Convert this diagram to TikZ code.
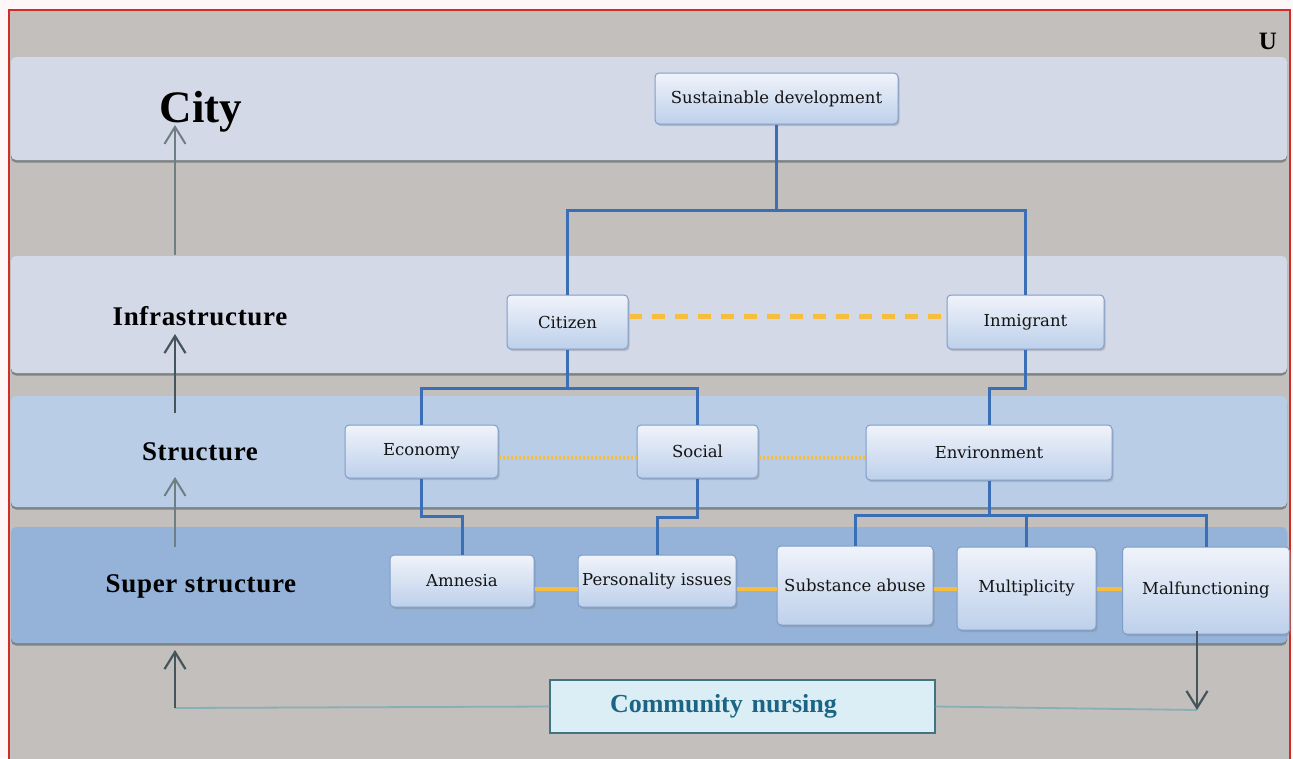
\documentclass[tikz,border=0pt]{standalone}
\usepackage{fontspec}
\setmainfont{Liberation Serif}
\newfontfamily\nodefont{DejaVu Serif}
\newfontfamily\labfont[LetterSpace=2.5]{Liberation Serif}
\usetikzlibrary{arrows.meta,shadows}
\definecolor{bggray}{HTML}{C3BFBD}
\definecolor{bandlight}{HTML}{D4D9E8}
\definecolor{bandmid}{HTML}{B9CEE6}
\definecolor{banddark}{HTML}{95B2D8}
\definecolor{bandshadow}{HTML}{7E8384}
\definecolor{framered}{HTML}{CF2E28}
\definecolor{boxtop}{HTML}{F0F3FA}
\definecolor{boxbot}{HTML}{BDD0EB}
\definecolor{boxline}{HTML}{7E9DC8}
\definecolor{connblue}{HTML}{3A6FB5}
\definecolor{connorange}{HTML}{F6BE3C}
\definecolor{arrowdark}{HTML}{44565B}
\definecolor{arrowlight}{HTML}{6E7E82}
\definecolor{commfill}{HTML}{DCEEF5}
\definecolor{commline}{HTML}{3F7480}
\definecolor{commtext}{HTML}{1B6584}
\definecolor{baseline}{HTML}{88AEB6}
\begin{document}
\begin{tikzpicture}[x=1pt,y=-1pt,
  box/.style={draw=boxline, line width=1pt, rounded corners=4pt,
    top color=boxtop, bottom color=boxbot,
    drop shadow={shadow xshift=1.5pt, shadow yshift=-2pt, opacity=0.35},
    font=\nodefont\fontsize{16.5}{19}\selectfont, text=black!92, inner sep=0pt},
  lab/.style={anchor=base, text=black, inner sep=0pt},
  conn/.style={draw=connblue, line width=3pt},
  odash/.style={draw=connorange, line width=5pt, dash pattern=on 13pt off 10pt},
  odot/.style={draw=connorange, line width=3.5pt, dash pattern=on 2.5pt off 1.5pt},
  osolid/.style={draw=connorange, line width=3.5pt},
  uparrow/.style={line width=2.6pt, draw=arrowdark, -{Straight Barb[length=17pt,width=21pt,line width=2.2pt]}},
  uparrowlight/.style={line width=1.8pt, draw=arrowlight, -{Straight Barb[length=17pt,width=21pt,line width=2pt]}},
  thinline/.style={draw=baseline, line width=1.8pt},
]
\useasboundingbox (0,0) rectangle (1293,758);
\fill[white!97!red] (0,0) rectangle (1293,758);
\fill[bggray] (9,10) rectangle (1290,760);
% bands
\foreach \ya/\yb/\col in {57/160/bandlight, 256/373/bandlight, 396/507/bandmid, 527/643/banddark}{
  \fill[bandshadow, rounded corners=5pt] (11,\ya+2) rectangle (1287,\yb+2.5);
  \fill[\col, rounded corners=5pt] (11,\ya) rectangle (1287,\yb);
}
\draw[framered, line width=2.5pt] (9,761) -- (9,10) -- (1290,10) -- (1290,761);

% level labels
\node[lab, font=\bfseries\fontsize{45}{50}\selectfont] (city) at (201,122) {City};
\node[lab, font=\labfont\bfseries\fontsize{27}{30}\selectfont] (infra) at (200,325) {Infrastructure};
\node[lab, font=\labfont\bfseries\fontsize{27}{30}\selectfont] (struct) at (200,460) {Structure};
\node[lab, font=\labfont\bfseries\fontsize{27}{30}\selectfont] (super) at (201,592) {Super structure};
\node[lab, font=\bfseries\fontsize{25}{28}\selectfont] (u) at (1268,49) {U};

% nodes
\node[box, minimum width=243pt, minimum height=51pt] (sd) at (776.5,98.5) {Sustainable development};
\node[box, minimum width=121pt, minimum height=54pt] (cit) at (567.5,322) {Citizen};
\node[box, minimum width=157pt, minimum height=54pt] (inm) at (1025.5,322) {Inmigrant};
\node[box, minimum width=153pt, minimum height=53pt] (eco) at (421.5,451.5) {Economy};
\node[box, minimum width=121pt, minimum height=53pt] (soc) at (697.5,451.5) {Social};
\node[box, minimum width=246pt, minimum height=55pt] (env) at (989,452.5) {Environment};
\node[box, minimum width=144pt, minimum height=52pt] (amn) at (462,581) {Amnesia};
\node[box, minimum width=158pt, minimum height=52pt] (per) at (657,581) {Personality issues};
\node[box, minimum width=156pt, minimum height=79pt] (sub) at (855,585.5) {Substance abuse};
\node[box, minimum width=139pt, minimum height=83pt] (mul) at (1026.5,588.5) {Multiplicity};
\node[box, minimum width=167pt, minimum height=87pt] (mal) at (1206,590.5) {Malfunctioning};

% blue tree connectors
\draw[conn] (sd.south) -- (sd.south |- 0,210) -| (cit.north);
\draw[conn] (sd.south |- 0,210) -| (inm.north);
\draw[conn] (cit.south) -- (cit.south |- 0,388) -| (eco.north);
\draw[conn] (cit.south |- 0,388) -| (soc.north);
\draw[conn] (inm.south) -- (inm.south |- 0,388) -| (env.north);
\draw[conn] (eco.south) -- (eco.south |- 0,516) -| (amn.north);
\draw[conn] (soc.south) -- (soc.south |- 0,517) -| (per.north);
\draw[conn] (env.south) -- (env.south |- 0,515) -| (sub.north);
\draw[conn] (env.south |- 0,515) -| (mul.north);
\draw[conn] (env.south |- 0,515) -| (mal.north);

% orange connectors
\draw[odash] (cit.east |- 0,316) -- (inm.west |- 0,316);
\draw[odot] (eco.east |- 0,458) -- (soc.west |- 0,458);
\draw[odot] (soc.east |- 0,458) -- (env.west |- 0,458);
\draw[osolid] (amn.east |- 0,589) -- (per.west |- 0,589);
\draw[osolid] (per.east |- 0,589) -- (sub.west |- 0,589);
\draw[osolid] (sub.east |- 0,589) -- (mul.west |- 0,589);
\draw[osolid] (mul.east |- 0,589) -- (mal.west |- 0,589);

% vertical level arrows
\coordinate (a1s) at (175,255);
\coordinate (a1e) at (175,125);
\coordinate (a2s) at (175,413);
\coordinate (a2e) at (175,334);
\coordinate (a3s) at (175,547);
\coordinate (a3e) at (175,477);
\draw[uparrowlight] (a1s) -- (a1e);
\draw[uparrow] (a2s) -- (a2e);
\draw[uparrowlight] (a3s) -- (a3e);

% community nursing loop
\node[draw=commline, line width=1.2pt, fill=commfill, minimum height=53pt,
  text width=385pt, inner xsep=0pt, inner ysep=0pt, align=left,
  font=\bfseries\fontsize{26}{28}\selectfont, text=commtext] (comm) at (742.5,706.5)
  {\hspace*{60pt}Community nursing};
\coordinate (cl) at (175,708);
\coordinate (cltop) at (175,650);
\coordinate (cr) at (1197,710);
\coordinate (crtop) at (1197,631);
\draw[thinline] (comm.west) -- (cl);
\draw[uparrow] (cl) -- (cltop);
\draw[thinline] (comm.east) -- (cr);
\draw[uparrow] (crtop) -- (cr);
\end{tikzpicture}
\end{document}
